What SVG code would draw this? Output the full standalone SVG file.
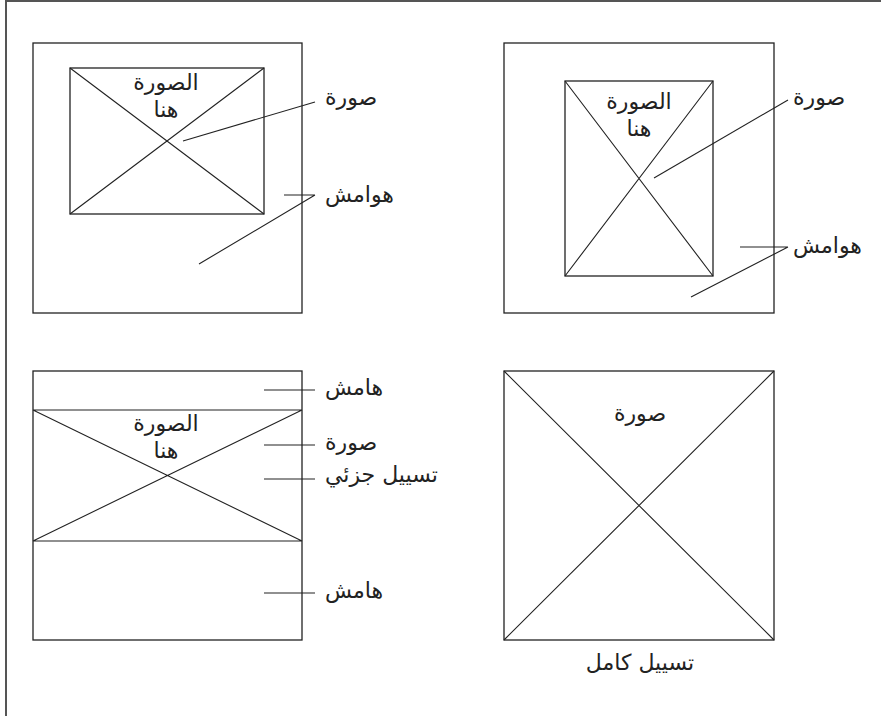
<svg xmlns="http://www.w3.org/2000/svg" width="881" height="716" viewBox="0 0 881 716">
<style>
.box{fill:none;stroke:#222;stroke-width:1.3}
.ln{stroke:#222;stroke-width:1.1;fill:none}
.t{font-family:"DejaVu Sans",sans-serif;font-size:22px;fill:#222}
.m{text-anchor:middle}
</style>
<rect width="881" height="716" fill="#fff"/>
<g id="frame"><path d="M6 716 V1 H881" fill="none" stroke="#555" stroke-width="2"/></g>
<g id="panel-tl">
<rect class="box" x="33" y="43" width="269" height="270"/>
<rect class="box" x="70" y="68" width="194" height="146"/>
<path class="ln" d="M70 68 L264 214 M264 68 L70 214"/>
<text class="t m" x="166" y="90">الصورة</text>
<text class="t m" x="166" y="117">هنا</text>
<text class="t" x="325" y="105">صورة</text>
<text class="t" x="325" y="202">هوامش</text>
</g>
<g id="panel-tr">
<rect class="box" x="504" y="43" width="270" height="270"/>
<rect class="box" x="565" y="81" width="148" height="195"/>
<path class="ln" d="M565 81 L713 276 M713 81 L565 276"/>
<text class="t m" x="639" y="109">الصورة</text>
<text class="t m" x="639" y="136">هنا</text>
<text class="t" x="793" y="105">صورة</text>
<text class="t" x="793" y="253">هوامش</text>
</g>
<g id="panel-bl">
<rect class="box" x="33" y="371" width="269" height="269"/>
<path class="ln" d="M33 410 H302 M33 541 H302 M33 410 L302 541 M302 410 L33 541"/>
<text class="t m" x="166" y="431">الصورة</text>
<text class="t m" x="166" y="458">هنا</text>
<text class="t" x="325" y="395">هامش</text>
<text class="t" x="325" y="450">صورة</text>
<text class="t" x="325" y="482">تسييل جزئي</text>
<text class="t" x="325" y="598">هامش</text>
</g>
<g id="panel-br">
<rect class="box" x="504" y="371" width="270" height="269"/>
<path class="ln" d="M504 371 L774 640 M774 371 L504 640"/>
<text class="t m" x="640" y="421">صورة</text>
<text class="t m" x="640" y="670">تسييل كامل</text>
</g>
<g id="connectors">
<path class="ln" d="M183 141 L315 102"/>
<path class="ln" d="M284 195 H315 M315 195 L199 264"/>
<path class="ln" d="M654 178 L788 100"/>
<path class="ln" d="M740 247 H788 M788 247 L691 297"/>
<path class="ln" d="M264 390 H315"/>
<path class="ln" d="M264 445 H315"/>
<path class="ln" d="M264 479 H315"/>
<path class="ln" d="M264 593 H315"/>
</g>
</svg>
